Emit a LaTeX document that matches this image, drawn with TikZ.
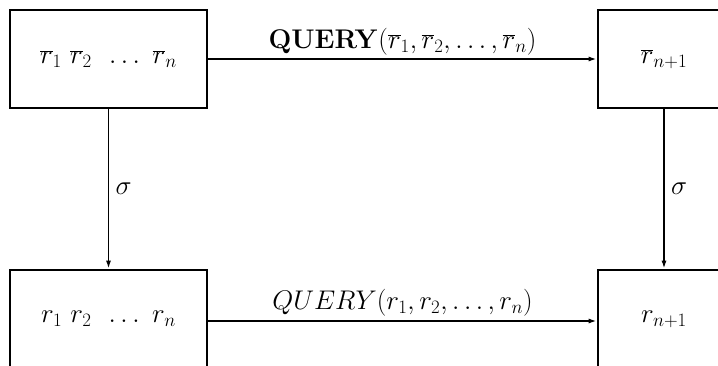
\documentclass[tikz,border=0pt]{standalone}
\usepackage{fix-cm}
\usetikzlibrary{arrows.meta}
\newcommand{\bigtext}{\fontsize{27}{32}\selectfont}
\begin{document}
\begin{tikzpicture}[x=1pt,y=-1pt,
  state/.style={draw,line width=2.6pt,minimum width=197pt,minimum height=98pt,inner sep=0pt,font=\bigtext},
  map/.style={-{Latex[length=8pt,width=5pt]},line width=1.6pt},
  lbl/.style={font=\bigtext}]
\useasboundingbox (0,0) rectangle (718,366);
\clip (0,0) rectangle (718,366);
\node[state] (a) at (108.5,59) {$\overline{r}_1\ \overline{r}_2\ \,\ldots\ \overline{r}_n$};
\node[state,minimum width=132pt] (b) at (664,59) {$\overline{r}_{n+1}$};
\node[state] (c) at (108.5,319) {$r_1\ r_2\ \,\ldots\ r_n$};
\node[state,minimum width=132pt] (d) at (664,319) {$r_{n+1}$};
\draw[map] (a.east) -- (b.west) node[midway,above=0pt,lbl] {$\mathbf{QUERY}(\overline{r}_1,\overline{r}_2,\ldots,\overline{r}_n)$};
\draw[map,line width=2.6pt] (c.east |- 0,321) -- (d.west |- 0,321) node[midway,above=0pt,lbl] {$QUERY(r_1,r_2,\ldots,r_n)$};
\draw[map] (a.south) -- (c.north) node[midway,right=3pt,lbl] {$\sigma$};
\draw[map] (b.south) -- (d.north) node[midway,right=3pt,lbl] {$\sigma$};
\end{tikzpicture}
\end{document}
